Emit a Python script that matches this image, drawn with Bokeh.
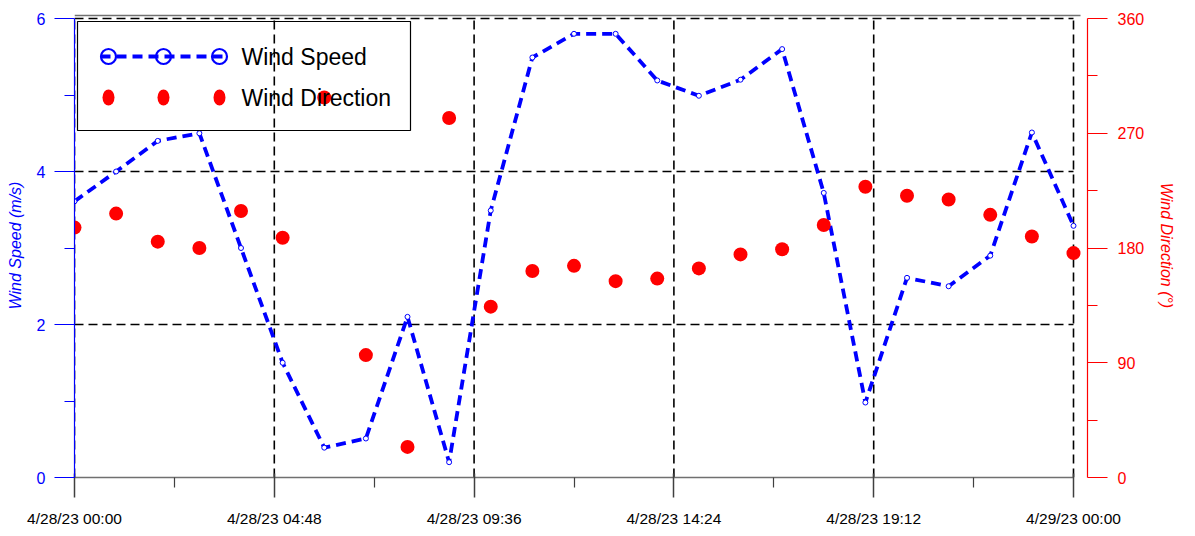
from bokeh.plotting import figure
from bokeh.models import Range1d, LinearAxis, FixedTicker, CustomJSTickFormatter
from bokeh.embed import file_html
from bokeh.resources import INLINE
from bokeh.core.properties import value

# ---------------- data ----------------
hours = list(range(25))  # 4/28/23 00:00 ... 4/29/23 00:00, hourly
wind_speed = [3.61, 4.00, 4.40, 4.50, 3.00, 1.50, 0.39, 0.51, 2.10, 0.20,
              3.49, 5.49, 5.80, 5.80, 5.19, 4.99, 5.20, 5.60, 3.72, 0.98,
              2.61, 2.50, 2.90, 4.51, 3.29]
wind_dir = [196, 207, 185, 180, 209, 188, 298, 96, 24, 282,
            134, 162, 166, 154, 156, 164, 175, 179, 198, 228,
            221, 218, 206, 189, 176]
x_ticks = [0, 4.8, 9.6, 14.4, 19.2, 24]
x_minor = [2.4, 7.2, 12.0, 16.8, 21.6]
x_tick_labels = ["4/28/23 00:00", "4/28/23 04:48", "4/28/23 09:36",
                 "4/28/23 14:24", "4/28/23 19:12", "4/29/23 00:00"]
speed_ticks = [0, 2, 4, 6]
speed_minor = [1, 3, 5]
speed_grid = [2, 4, 6]
dir_ticks = [0, 90, 180, 270, 360]
dir_minor = [45, 135, 225, 315]
legend_labels = ["Wind Speed", "Wind Direction"]

# ---------------- layout (screen px) ----------------
W, H = 1195, 536
X0, X24 = 74, 1073      # screen x of hour 0 and hour 24
Y0, Y6 = 477, 18        # screen y of speed 0 and 6
FL, FR, FT, FB = 74, 1087, 13, 477
ppx = (X24 - X0) / 24.0
ppy = (Y0 - Y6) / 6.0

BLUE = "#0000FF"
RED = "#FF0000"
FONT = "Liberation Sans"

p = figure(width=W, height=H, output_backend="svg", toolbar_location=None,
           x_range=Range1d(0 - (X0 - FL) / ppx, 24 + (FR - X24) / ppx),
           y_range=Range1d(0 - (FB - Y0) / ppy, 6 + (Y6 - FT) / ppy),
           min_border_left=FL, min_border_right=W - FR,
           min_border_top=FT, min_border_bottom=H - FB)
p.outline_line_color = None
p.xgrid.visible = False
p.ygrid.visible = False
p.background_fill_color = "white"
p.border_fill_color = "white"

dir_scale = 360.0 / 6.0
p.extra_y_ranges = {"dir": Range1d(p.y_range.start * dir_scale, p.y_range.end * dir_scale),
                    "ly": Range1d(FB - FT, 0)}
p.extra_x_ranges = {"lx": Range1d(0, FR - FL)}

# ---------------- axes ----------------
ax = p.xaxis[0]
ax.ticker = FixedTicker(ticks=x_ticks, minor_ticks=x_minor)
ax.formatter = CustomJSTickFormatter(args=dict(tk=x_ticks, lbl=x_tick_labels), code="""
const i = tk.findIndex(t => Math.abs(t - tick) < 1e-6);
return i >= 0 ? lbl[i] : '';
""")
ax.bounds = (0, 24)
ax.axis_line_color = "#707070"
ax.axis_line_width = 1.5
ax.major_tick_line_color = "#404040"
ax.major_tick_line_width = 1.5
ax.major_tick_in = 4
ax.major_tick_out = 20
ax.minor_tick_line_color = "#404040"
ax.minor_tick_line_width = 1.2
ax.minor_tick_in = 0
ax.minor_tick_out = 10
ax.major_label_standoff = 12
ax.major_label_text_font = FONT
ax.major_label_text_font_size = "15.5px"
ax.major_label_text_color = "black"

ay = p.yaxis[0]
ay.ticker = FixedTicker(ticks=speed_ticks, minor_ticks=speed_minor)
ay.bounds = (0, 6)
ay.axis_line_color = BLUE
ay.axis_line_width = 1.2
ay.major_tick_line_color = BLUE
ay.minor_tick_line_color = BLUE
ay.major_tick_in = 0
ay.major_tick_out = 20
ay.minor_tick_in = 0
ay.minor_tick_out = 10
ay.major_label_standoff = 9
ay.major_label_text_font = FONT
ay.major_label_text_font_size = "16px"
ay.major_label_text_color = BLUE
ay.axis_label = "Wind Speed (m/s)"
ay.axis_label_text_font = FONT
ay.axis_label_text_font_style = "italic"
ay.axis_label_text_font_size = "16px"
ay.axis_label_text_color = BLUE
ay.axis_label_standoff = 10

ar = LinearAxis(y_range_name="dir",
                ticker=FixedTicker(ticks=dir_ticks, minor_ticks=dir_minor))
ar.bounds = (0, 360)
ar.axis_line_color = RED
ar.axis_line_width = 1.2
ar.major_tick_line_color = RED
ar.minor_tick_line_color = RED
ar.major_tick_in = 0
ar.major_tick_out = 20
ar.minor_tick_in = 0
ar.minor_tick_out = 10
ar.major_label_standoff = 10
ar.major_label_text_font = FONT
ar.major_label_text_font_size = "16px"
ar.major_label_text_color = RED
ar.axis_label = "Wind Direction (°)"
ar.axis_label_text_font = FONT
ar.axis_label_text_font_style = "italic"
ar.axis_label_text_font_size = "16px"
ar.axis_label_text_color = RED
ar.axis_label_standoff = 11
p.add_layout(ar, "right")

# ---------------- grid (dashed) ----------------
GRID = dict(line_color="black", line_width=1.6, line_dash="9 5")
p.segment(x0=x_ticks, x1=x_ticks, y0=[0] * len(x_ticks), y1=[6] * len(x_ticks), **GRID)
p.segment(x0=[0] * len(speed_grid), x1=[24] * len(speed_grid),
          y0=speed_grid, y1=speed_grid, **GRID)
# top border line
p.line(x=[0, 1080 - FL], y=[15 - FT, 15 - FT], x_range_name="lx", y_range_name="ly",
       line_color="#707070", line_width=1.5)

# ---------------- data glyphs ----------------
p.line(hours, wind_speed, line_color=BLUE, line_width=3.8, line_dash="10 6")
p.scatter(hours, wind_speed, marker="circle", size=5, line_color=BLUE,
          line_width=1, fill_color="white")
p.scatter(hours, wind_dir, y_range_name="dir", marker="circle", size=14,
          line_color=None, fill_color=RED)

# ---------------- legend (screen-anchored) ----------------
lx = lambda sx: sx - FL
ly = lambda sy: sy - FT
p.quad(left=[lx(77)], right=[lx(410)], top=[ly(21)], bottom=[ly(130)],
       x_range_name="lx", y_range_name="ly",
       fill_alpha=0, line_color="black", line_width=1.2)
row1, row2 = ly(56), ly(97)
sym_x = [lx(108), lx(163), lx(219)]
p.line(x=[lx(100), lx(228)], y=[row1, row1], x_range_name="lx", y_range_name="ly",
       line_color=BLUE, line_width=3.8, line_dash="10 6")
p.scatter(x=sym_x, y=[row1] * 3, x_range_name="lx", y_range_name="ly",
          marker="circle", size=15, line_color=BLUE, line_width=2.2, fill_alpha=0)
p.ellipse(x=sym_x, y=[row2] * 3, width=12, height=16, width_units="screen",
          height_units="screen", x_range_name="lx", y_range_name="ly",
          fill_color=RED, line_color=None)
p.text(x=[lx(241), lx(241)], y=[row1, row2], text=legend_labels,
       x_range_name="lx", y_range_name="ly",
       text_font=value(FONT),
       text_font_size="23px", text_baseline="middle", text_align="left",
       text_color="black")

open("out.html", "w").write(file_html(p, INLINE))
